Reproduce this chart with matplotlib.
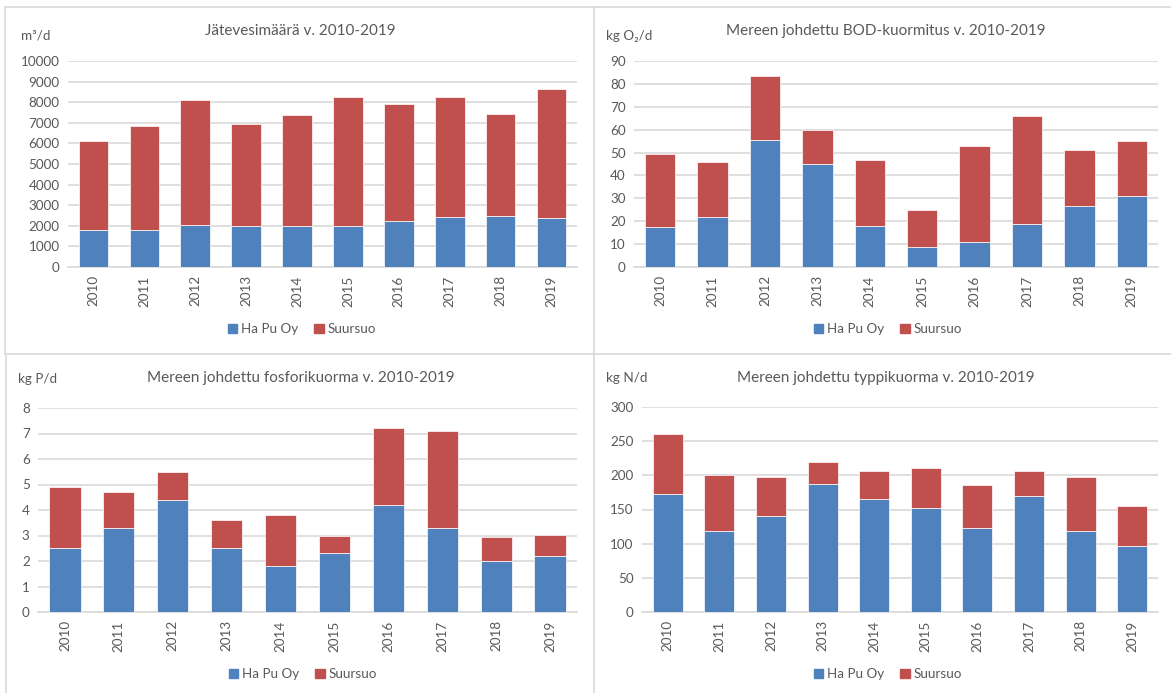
import matplotlib
matplotlib.use("Agg")
import matplotlib.pyplot as plt
from matplotlib.lines import Line2D
from matplotlib.patches import Patch
import numpy as np

plt.rcParams["font.family"] = ["Lato", "DejaVu Sans"]

years = ["2010", "2011", "2012", "2013", "2014", "2015", "2016", "2017", "2018", "2019"]

# Jätevesimäärä m3/d
water_hapu = [1780, 1780, 2060, 1990, 2000, 2000, 2220, 2430, 2480, 2400]
water_total = [6130, 6860, 8100, 6920, 7375, 8230, 7910, 8265, 7420, 8620]

# BOD kg O2/d
bod_hapu = [17.5, 21.9, 55.7, 44.8, 17.8, 8.9, 11.1, 19.0, 26.8, 30.9]
bod_total = [49.4, 45.8, 83.5, 59.8, 46.8, 24.9, 52.9, 65.9, 50.9, 55.0]

# fosfori kg P/d
p_hapu = [2.5, 3.3, 4.4, 2.5, 1.8, 2.3, 4.2, 3.3, 2.0, 2.2]
p_total = [4.9, 4.7, 5.5, 3.6, 3.8, 2.98, 7.2, 7.1, 2.94, 3.02]

# typpi kg N/d
n_hapu = [172.7, 118.5, 140.5, 187.3, 164.9, 152.7, 122.9, 169.8, 118.0, 96.6]
n_total = [260, 200, 197, 219.5, 205.9, 210.7, 185.9, 206.8, 197, 155]

BLUE = "#4F81BD"
RED = "#C0504D"
GREY = "#595959"
LINE = "#d9d9d9"

W, H = 1171, 693
fig = plt.figure(figsize=(W / 100, H / 100), dpi=100)


def px_axes(x0, x1, ytop, ybot):
    return fig.add_axes([x0 / W, 1 - ybot / H, (x1 - x0) / W, (ybot - ytop) / H])


def panel(box, hapu, total, ymax, step, title, unit, title_xy, unit_xy, leg_xy):
    ax = px_axes(*box)
    x = np.arange(len(years))
    suur = np.array(total) - np.array(hapu)
    ax.bar(x, hapu, width=0.58, color=BLUE, edgecolor="white", linewidth=0.5, zorder=3)
    ax.bar(x, suur, bottom=hapu, width=0.58, color=RED, edgecolor="white", linewidth=0.5, zorder=3)
    ax.set_xlim(-0.5, len(years) - 0.5)
    ax.set_ylim(0, ymax)
    ax.set_yticks(np.arange(0, ymax + step / 2, step))
    ax.yaxis.grid(True, color=LINE, linewidth=1.2, zorder=0)
    ax.set_xticks(x)
    ax.set_xticklabels(years, rotation=90)
    ax.tick_params(length=0, labelsize=9.7, colors=GREY, pad=6)
    for s in ["top", "right", "left"]:
        ax.spines[s].set_visible(False)
    ax.spines["bottom"].set_color(LINE)
    ax.spines["bottom"].set_linewidth(1.2)
    fig.text(title_xy[0] / W, 1 - title_xy[1] / H, title, ha="center", va="center",
             fontsize=11, color=GREY)
    fig.text(unit_xy[0] / W, 1 - unit_xy[1] / H, unit, ha="left", va="center",
             fontsize=9.7, color=GREY)
    handles = [Patch(color=BLUE, label="Ha Pu Oy"), Patch(color=RED, label="Suursuo")]
    fig.legend(handles=handles, loc="center", bbox_to_anchor=(leg_xy[0] / W, 1 - leg_xy[1] / H),
               ncol=2, frameon=False, fontsize=9.7, labelcolor=GREY,
               handlelength=0.7, handleheight=0.7, handletextpad=0.3, columnspacing=1.2)
    return ax


panel((68, 577, 61, 267), water_hapu, water_total, 10000, 1000,
      "Jätevesimäärä v. 2010-2019", "m³/d", (300, 31), (21, 35), (302, 329))
panel((634, 1158, 61, 267), bod_hapu, bod_total, 90, 10,
      "Mereen johdettu BOD-kuormitus v. 2010-2019", "kg O₂/d", (886, 31), (606, 36), (888, 329))
panel((38, 577, 408, 612), p_hapu, p_total, 8, 1,
      "Mereen johdettu fosforikuorma v. 2010-2019", "kg P/d", (301, 378), (18, 379), (303, 674))
panel((642, 1158, 407, 612), n_hapu, n_total, 300, 50,
      "Mereen johdettu typpikuorma v. 2010-2019", "kg N/d", (886, 378), (606, 378), (888, 674))

# panel borders
def fig_line(xs, ys):
    fig.add_artist(Line2D([v / W for v in xs], [1 - v / H for v in ys], color=LINE, linewidth=1.2))

fig_line([5, W], [7, 7])
fig_line([5, W], [354, 354])
fig_line([5, 5], [7, 354])
fig_line([6, 6], [354, H])
fig_line([594, 594], [7, H])

fig.savefig("out.png", dpi=100, facecolor="white")
